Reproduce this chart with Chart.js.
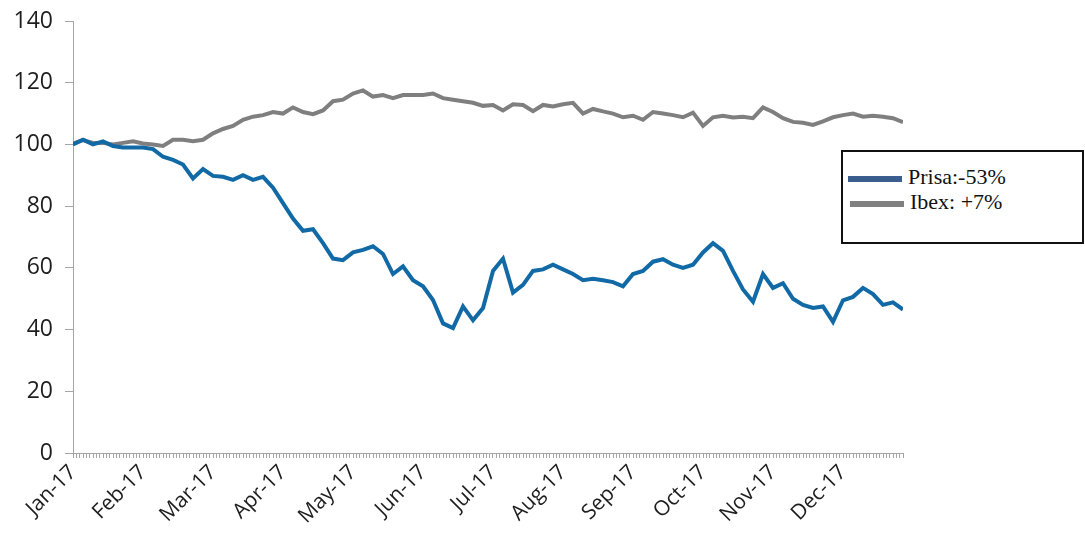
<!DOCTYPE html>
<html>
<head>
<meta charset="utf-8">
<script src="https://cdn.jsdelivr.net/npm/chart.js@4"></script>
<style>
  body { margin: 0; background: #fff; }
  #wrap { position: relative; width: 1085px; height: 539px; }
  #legend {
    position: absolute; left: 841px; top: 150px; width: 239px; height: 90px;
    border: 2px solid #111; background: #fff;
    font-family: "Liberation Serif", serif; font-size: 22px; color: #111;
  }
  .item { position: absolute; left: 5px; height: 24px; line-height: 24px; white-space: nowrap; }
  .swatch { display: inline-block; width: 54px; height: 6px; vertical-align: middle; margin-right: 6px; }
</style>
</head>
<body>
<div id="wrap">
  <canvas id="chart" width="1085" height="539"></canvas>
  <div id="legend">
    <div class="item" style="top:13px"><span class="swatch" style="background:#3a5f8f"></span>Prisa:-53%</div>
    <div class="item" style="top:38px;left:7px"><span class="swatch" style="background:#808080"></span>Ibex: +7%</div>
  </div>
</div>
<script>
// month labels, one every 21 trading days
const months = ['Jan-17', 'Feb-17', 'Mar-17', 'Apr-17', 'May-17', 'Jun-17',
                'Jul-17', 'Aug-17', 'Sep-17', 'Oct-17', 'Nov-17', 'Dec-17'];

// base 100, sampled every 3 trading days
const prisa = [
  100, 101.5, 100, 101, 99.5, 99, 99, 99, 98.5, 96,
  95, 93.5, 89, 92, 89.8, 89.5, 88.5, 90, 88.5, 89.5,
  86, 81, 76, 72, 72.5, 68, 63, 62.5, 65, 65.8,
  67, 64.5, 58, 60.5, 56, 54, 49.6, 42, 40.5, 47.5,
  43, 47, 59, 63, 52, 54.5, 59, 59.5, 61, 59.5,
  58, 56, 56.5, 56, 55.4, 54, 58, 59, 62, 62.8,
  61, 60, 61, 65, 68, 65.5, 59, 53, 49, 58,
  53.5, 55, 50, 48, 47, 47.5, 42.5, 49.5, 50.6, 53.5,
  51.5, 48, 48.8, 46.5
];
const ibex = [
  100.3, 101.4, 100.5, 100.5, 100, 100.5, 101, 100.3, 100, 99.5,
  101.5, 101.5, 101, 101.5, 103.6, 105, 106, 108, 109, 109.5,
  110.5, 110, 112, 110.5, 109.8, 111, 114, 114.5, 116.5, 117.5,
  115.5, 116, 115, 116, 116, 116, 116.5, 115, 114.5, 114,
  113.5, 112.5, 112.8, 111, 113, 112.8, 110.8, 112.8, 112.3, 113,
  113.5, 110, 111.5, 110.7, 110, 108.8, 109.3, 108, 110.5, 110,
  109.5, 108.8, 110.3, 106, 108.8, 109.3, 108.7, 109, 108.5, 112,
  110.5, 108.5, 107.3, 107, 106.3, 107.5, 108.8, 109.5, 110, 109,
  109.3, 109, 108.5, 107.2
];
const sampleStep = 3;
const lastDay = (prisa.length - 1) * sampleStep;

const toPoints = arr => arr.map((v, i) => ({ x: i * sampleStep, y: v }));

new Chart(document.getElementById('chart').getContext('2d'), {
  type: 'line',
  data: {
    datasets: [
      {
        label: 'Prisa:-53%',
        data: toPoints(prisa),
        borderColor: '#116aa5',
        borderWidth: 4,
        pointRadius: 0,
        tension: 0
      },
      {
        label: 'Ibex: +7%',
        data: toPoints(ibex),
        borderColor: '#7f7f7f',
        borderWidth: 4,
        pointRadius: 0,
        tension: 0
      }
    ]
  },
  options: {
    responsive: false,
    animation: false,
    layout: { padding: { top: 21, right: 182, left: 0, bottom: 0 } },
    plugins: { legend: { display: false }, tooltip: { enabled: false } },
    scales: {
      x: {
        type: 'linear',
        min: 0,
        max: lastDay,
        afterBuildTicks: scale => {
          const t = [];
          for (let d = 0; d <= lastDay; d++) t.push({ value: d });
          scale.ticks = t;
        },
        afterFit: scale => { scale.height = 86; },
        border: { color: '#a6a6a6', width: 1 },
        grid: { drawOnChartArea: false, tickLength: 5, color: '#a6a6a6' },
        ticks: {
          autoSkip: false,
          maxRotation: 45,
          minRotation: 45,
          padding: 2,
          color: '#1e1e1e',
          font: { family: 'Open Sans', size: 21 },
          callback: v => (v % 21 === 0 ? months[v / 21] : '')
        }
      },
      y: {
        min: 0,
        max: 140,
        afterFit: scale => {
          scale.width = 73;
          scale.paddingTop = 0;
          scale.paddingBottom = 0;
        },
        border: { color: '#a6a6a6', width: 1 },
        grid: { drawOnChartArea: false, tickLength: 8, color: '#a6a6a6' },
        ticks: {
          stepSize: 20,
          padding: 12,
          color: '#1e1e1e',
          font: { family: 'Open Sans', size: 23 }
        }
      }
    }
  }
});
</script>
</body>
</html>
